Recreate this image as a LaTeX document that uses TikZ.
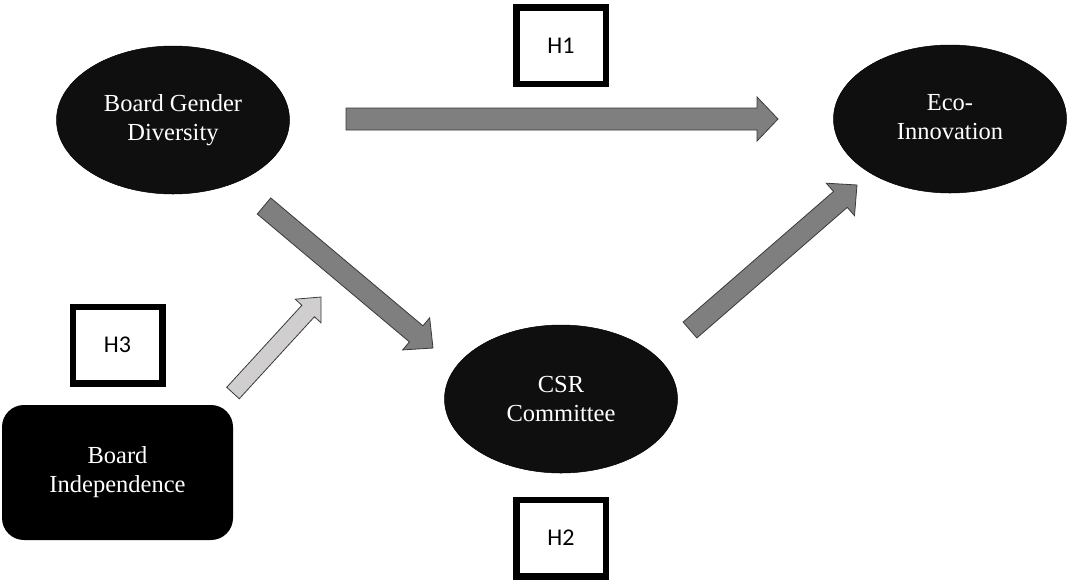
\documentclass[tikz,border=0pt]{standalone}
\usepackage{fontspec}
\setmainfont{Liberation Serif}
\newfontfamily\hfont{Carlito}
\usetikzlibrary{shapes.geometric,calc}
\definecolor{nodeblack}{HTML}{0F0F0F}
\definecolor{arrgray}{HTML}{7F7F7F}
\definecolor{arrlight}{HTML}{D0CECE}
\definecolor{arredge}{HTML}{3A3A3A}
\newcommand\blockarrow[6]{%
  \coordinate (ahb) at ($(#3)!#6!(#2)$);
  \draw[#1] ($(#2)!#4!90:(#3)$) -- ($(ahb)!#4!90:(#3)$) -- ($(ahb)!#5!90:(#3)$) -- (#3)
    -- ($(ahb)!#5!-90:(#3)$) -- ($(ahb)!#4!-90:(#3)$) -- ($(#2)!#4!-90:(#3)$) -- cycle;
}
\tikzset{
  concept/.style={ellipse, fill=nodeblack, draw=black, line width=0.5pt, text=white,
    minimum width=233pt, minimum height=148pt, inner sep=0pt, align=center,
    font=\fontsize{24.5}{29}\selectfont},
  indep/.style={rectangle, rounded corners=22pt, fill=black, text=white,
    minimum width=231pt, minimum height=135pt, inner sep=0pt, align=center,
    font=\fontsize{24.5}{29}\selectfont},
  hbox/.style={rectangle, draw=black, line width=6.5pt, fill=white,
    minimum width=89.5pt, minimum height=76.5pt, inner sep=0pt,
    font=\hfont\fontsize{24}{28}\selectfont},
  darkarrow/.style={fill=arrgray, draw=arredge, line width=0.8pt, line join=miter},
  lightarrow/.style={fill=arrlight, draw=arredge, line width=0.8pt, line join=miter}
}
\begin{document}
\begin{tikzpicture}[x=1pt, y=-1pt]
\useasboundingbox (0,0) rectangle (1067,581);
\fill[white] (0,0) rectangle (1067,581);

\node[concept] (bgd) at (173,120) {Board Gender\\Diversity};
\node[concept] (eco) at (950,119) {\raisebox{-6pt}{\begin{tabular}{@{}c@{}}Eco-\\Innovation\end{tabular}}};
\node[concept] (csr) at (561,399) {CSR\\Committee};
\node[indep] (bi) at (117.5,472.5) {Board\\Independence};

\node[hbox] (h1) at (561,45.5) {H1};
\node[hbox] (h2) at (561,538) {H2};
\node[hbox] (h3) at (117.5,345) {H3};

\coordinate (a1s) at (346,119);
\coordinate (a1e) at (778,119);
\coordinate (a2s) at (264,206);
\coordinate (a2e) at (433,348);
\coordinate (a3s) at (690,330);
\coordinate (a3e) at (857,185);
\coordinate (a4s) at (233,393);
\coordinate (a4e) at (321,297);

\blockarrow{darkarrow}{a1s}{a1e}{11pt}{22pt}{21pt}
\blockarrow{darkarrow}{a2s}{a2e}{10.5pt}{21pt}{22pt}
\blockarrow{darkarrow}{a3s}{a3e}{10.5pt}{21.5pt}{22pt}
\blockarrow{lightarrow}{a4s}{a4e}{8.5pt}{17.5pt}{19pt}
\end{tikzpicture}
\end{document}
